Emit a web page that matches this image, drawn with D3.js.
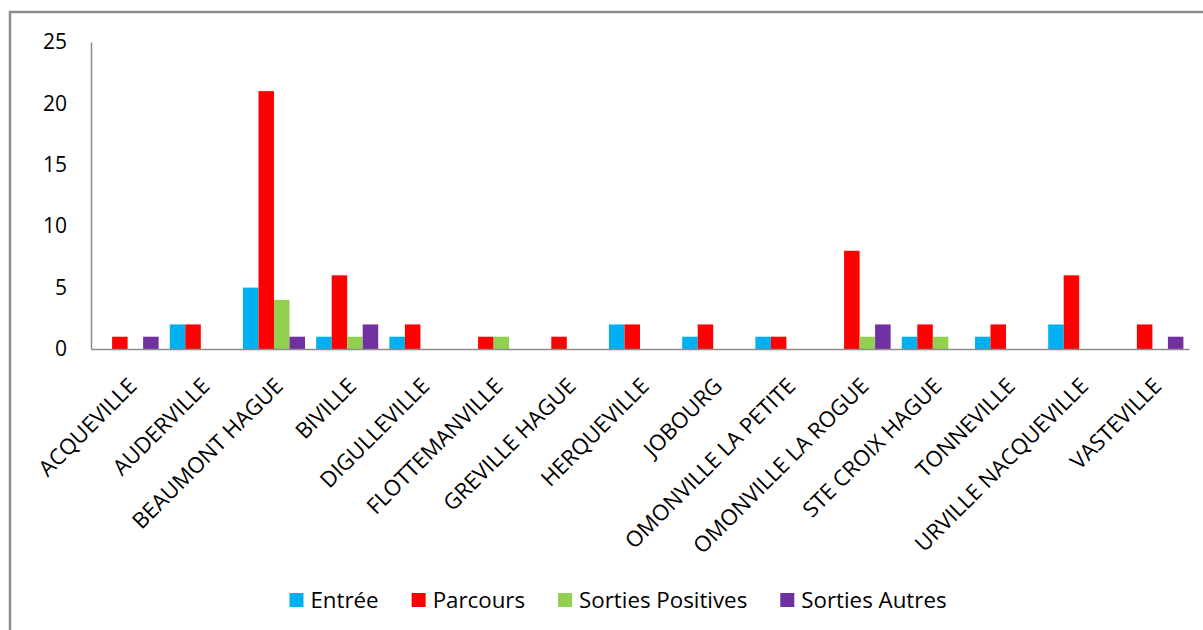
<!DOCTYPE html>
<html>
<head>
<meta charset="utf-8">
<script src="https://cdn.jsdelivr.net/npm/d3@7/dist/d3.min.js"></script>
<style>
  html, body { margin: 0; padding: 0; background: #fff; }
  svg { display: block; }
  text { font-family: "Open Sans", "Noto Sans", sans-serif; fill: #000; }
</style>
</head>
<body>
<svg id="chart" width="1203" height="630"></svg>
<script>
const categories = ["ACQUEVILLE", "AUDERVILLE", "BEAUMONT HAGUE", "BIVILLE", "DIGULLEVILLE",
  "FLOTTEMANVILLE", "GREVILLE HAGUE", "HERQUEVILLE", "JOBOURG", "OMONVILLE LA PETITE",
  "OMONVILLE LA ROGUE", "STE CROIX HAGUE", "TONNEVILLE", "URVILLE NACQUEVILLE", "VASTEVILLE"];
const seriesNames = ["Entrée", "Parcours", "Sorties Positives", "Sorties Autres"];
const entree = [0, 2, 5, 1, 1, 0, 0, 2, 1, 1, 0, 1, 1, 2, 0];
const parcours = [1, 2, 21, 6, 2, 1, 1, 2, 2, 1, 8, 2, 2, 6, 2];
const sortiesPositives = [0, 0, 4, 1, 0, 1, 0, 0, 0, 0, 1, 1, 0, 0, 0];
const sortiesAutres = [1, 0, 1, 2, 0, 0, 0, 0, 0, 0, 2, 0, 0, 0, 1];
const yTicks = [0, 5, 10, 15, 20, 25];
const colors = ["#00B0F0", "#FF0000", "#92D050", "#7030A0"];

const seriesValues = [entree, parcours, sortiesPositives, sortiesAutres];

const svg = d3.select("#chart");
const W = 1203, H = 630;

// outer frame
svg.append("path")
  .attr("d", `M10,${H} L10,12 L${W},12`)
  .attr("fill", "none")
  .attr("stroke", "#8c8c8c")
  .attr("stroke-width", 2.5);

const plot = { left: 91, right: 1189, top: 42, bottom: 349 };

const x0 = d3.scaleBand().domain(categories).range([plot.left, plot.right]).paddingInner(0).paddingOuter(0);
const x1 = d3.scaleBand().domain(seriesNames).range([0, x0.bandwidth()]).paddingInner(0).paddingOuter(0.36);
const y = d3.scaleLinear().domain([0, 25]).range([plot.bottom, plot.top]);

// bars
const groups = svg.append("g").selectAll("g")
  .data(categories)
  .join("g")
  .attr("transform", d => `translate(${x0(d)},0)`);

groups.selectAll("rect")
  .data((c, i) => seriesNames.map((s, k) => ({ s, k, v: seriesValues[k][i] })))
  .join("rect")
  .attr("x", d => x1(d.s))
  .attr("width", x1.bandwidth())
  .attr("y", d => y(d.v))
  .attr("height", d => y(0) - y(d.v))
  .attr("fill", d => colors[d.k]);

// y axis
const yAxis = d3.axisLeft(y).tickValues(yTicks).tickSize(0).tickPadding(24);
const yg = svg.append("g").attr("transform", `translate(${plot.left},0)`).call(yAxis);
yg.select(".domain").attr("stroke", "#8c8c8c").attr("stroke-width", 1.5);
yg.selectAll("text").attr("font-size", 21).attr("font-family", "'Open Sans', sans-serif").attr("fill", "#000");

// x axis
const xAxis = d3.axisBottom(x0).tickSize(0).tickFormat(() => "");
const xg = svg.append("g").attr("transform", `translate(0,${plot.bottom})`).call(xAxis);
xg.select(".domain").attr("stroke", "#8c8c8c").attr("stroke-width", 1.5);

// rotated category labels
svg.append("g").selectAll("text")
  .data(categories)
  .join("text")
  .attr("transform", d => `translate(${x0(d) + x0.bandwidth() / 2 + 5},${plot.bottom + 33}) rotate(-45)`)
  .attr("text-anchor", "end")
  .attr("dy", "0.35em")
  .attr("font-size", 22)
  .text(d => d);

// legend
const legend = svg.append("g").attr("transform", `translate(0,600)`);
const items = legend.selectAll("g").data(seriesNames).join("g");
items.append("rect").attr("width", 14).attr("height", 14).attr("y", -7).attr("fill", (d, i) => colors[i]);
items.append("text").attr("x", 21).attr("dy", "0.35em").attr("font-size", 22.3).text(d => d);
let widths = [];
items.each(function() { widths.push(this.getBBox().width); });
const gap = 33;
const total = d3.sum(widths) + gap * (widths.length - 1);
let cx = 618 - total / 2;
items.attr("transform", (d, i) => {
  const t = `translate(${cx},0)`;
  cx += widths[i] + gap;
  return t;
});
</script>
</body>
</html>
